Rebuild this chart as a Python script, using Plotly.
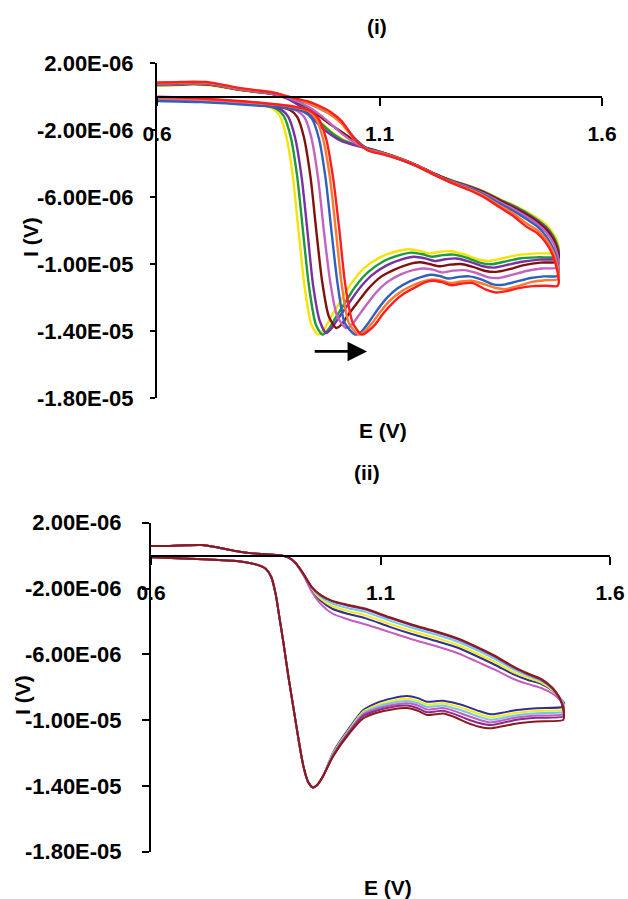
import plotly.graph_objects as go

# ---------------- tick labels ----------------
Y_TICKVALS = [2, -2, -6, -10, -14, -18]          # current in microampere
Y_TICKTEXT = ["2.00E-06", "-2.00E-06", "-6.00E-06", "-1.00E-05", "-1.40E-05", "-1.80E-05"]
X_TICKVALS = [0.6, 1.1, 1.6]
X_TICKTEXT = ["0.6", "1.1", "1.6"]

# ---------------- panel (i) data (E in V, I in uA) ----------------
NAMES_I = ["yellow", "green", "purple", "maroon", "orchid", "blue", "orange", "red"]
COLORS_I = ["#F5E400", "#1B9A3E", "#7A2FA2", "#7F1111", "#C462C4", "#2F5FBF", "#FF7A2A", "#FF1E1E"]

E_LOW_YELLOW = [0.600, 0.700, 0.800, 0.840, 0.860, 0.875, 0.890, 0.905, 0.918, 0.932, 0.947, 0.962, 0.975, 0.990, 1.010, 1.035, 1.065, 1.100, 1.135, 1.165, 1.190, 1.212, 1.235, 1.260, 1.290, 1.320, 1.345, 1.375, 1.410, 1.455, 1.500]
I_LOW_YELLOW = [-0.15, -0.22, -0.38, -0.52, -0.70, -1.10, -2.30, -4.70, -8.00, -11.40, -13.60, -14.20, -13.90, -13.20, -12.30, -11.20, -10.25, -9.60, -9.25, -9.10, -9.20, -9.35, -9.25, -9.22, -9.40, -9.70, -9.80, -9.65, -9.45, -9.35, -9.30]

E_LOW_GREEN = [0.600, 0.700, 0.800, 0.850, 0.870, 0.885, 0.900, 0.915, 0.928, 0.942, 0.957, 0.972, 0.985, 1.000, 1.020, 1.045, 1.075, 1.110, 1.145, 1.172, 1.197, 1.218, 1.242, 1.266, 1.295, 1.325, 1.350, 1.380, 1.415, 1.458, 1.500]
I_LOW_GREEN = [-0.18, -0.25, -0.40, -0.56, -0.75, -1.15, -2.35, -4.75, -8.00, -11.40, -13.60, -14.20, -13.90, -13.25, -12.40, -11.35, -10.45, -9.80, -9.45, -9.30, -9.40, -9.55, -9.45, -9.42, -9.60, -9.90, -10.00, -9.85, -9.65, -9.58, -9.55]

E_LOW_PURPLE = [0.600, 0.700, 0.800, 0.860, 0.880, 0.895, 0.910, 0.925, 0.938, 0.951, 0.966, 0.980, 0.993, 1.008, 1.028, 1.053, 1.083, 1.117, 1.150, 1.178, 1.202, 1.224, 1.248, 1.272, 1.300, 1.330, 1.355, 1.385, 1.420, 1.460, 1.500]
I_LOW_PURPLE = [-0.20, -0.27, -0.42, -0.60, -0.78, -1.20, -2.40, -4.80, -8.00, -11.30, -13.40, -14.10, -13.80, -13.20, -12.45, -11.50, -10.65, -10.05, -9.70, -9.55, -9.65, -9.80, -9.70, -9.65, -9.82, -10.10, -10.20, -10.05, -9.85, -9.72, -9.67]

E_LOW_MAROON = [0.600, 0.700, 0.800, 0.870, 0.900, 0.915, 0.930, 0.945, 0.958, 0.971, 0.986, 1.003, 1.016, 1.030, 1.050, 1.075, 1.103, 1.135, 1.165, 1.190, 1.212, 1.234, 1.258, 1.282, 1.310, 1.338, 1.362, 1.390, 1.425, 1.462, 1.500]
I_LOW_MAROON = [-0.15, -0.22, -0.38, -0.58, -0.80, -1.20, -2.40, -4.80, -8.00, -11.00, -13.10, -13.80, -13.55, -13.00, -12.30, -11.45, -10.75, -10.30, -10.00, -9.88, -9.98, -10.12, -10.02, -9.98, -10.15, -10.40, -10.45, -10.30, -10.05, -9.90, -9.85]

E_LOW_ORCHID = [0.600, 0.700, 0.800, 0.880, 0.915, 0.932, 0.947, 0.962, 0.975, 0.989, 1.005, 1.025, 1.038, 1.052, 1.070, 1.092, 1.118, 1.148, 1.175, 1.198, 1.220, 1.242, 1.265, 1.290, 1.318, 1.345, 1.368, 1.395, 1.430, 1.465, 1.500]
I_LOW_ORCHID = [-0.18, -0.25, -0.42, -0.62, -0.85, -1.25, -2.45, -4.85, -8.00, -11.00, -13.10, -13.80, -13.60, -13.10, -12.45, -11.70, -11.05, -10.60, -10.35, -10.25, -10.32, -10.48, -10.38, -10.35, -10.52, -10.78, -10.82, -10.65, -10.40, -10.25, -10.20]

E_LOW_BLUE = [0.600, 0.700, 0.800, 0.890, 0.930, 0.948, 0.964, 0.979, 0.992, 1.006, 1.022, 1.046, 1.060, 1.075, 1.093, 1.115, 1.140, 1.168, 1.195, 1.215, 1.235, 1.255, 1.278, 1.302, 1.330, 1.355, 1.378, 1.405, 1.440, 1.470, 1.500]
I_LOW_BLUE = [-0.25, -0.32, -0.48, -0.66, -0.90, -1.30, -2.50, -4.90, -8.00, -11.20, -13.50, -14.20, -14.00, -13.50, -12.80, -12.05, -11.45, -11.02, -10.75, -10.62, -10.70, -10.85, -10.75, -10.72, -10.92, -11.20, -11.22, -11.05, -10.82, -10.72, -10.70]

E_LOW_ORANGE = [0.600, 0.700, 0.800, 0.895, 0.940, 0.957, 0.973, 0.989, 1.002, 1.015, 1.031, 1.053, 1.067, 1.082, 1.100, 1.122, 1.147, 1.175, 1.200, 1.220, 1.240, 1.260, 1.283, 1.307, 1.335, 1.360, 1.383, 1.410, 1.443, 1.472, 1.500]
I_LOW_ORANGE = [-0.05, -0.15, -0.32, -0.55, -0.85, -1.30, -2.50, -4.90, -8.00, -11.20, -13.50, -14.20, -14.00, -13.55, -12.90, -12.20, -11.65, -11.25, -11.00, -10.90, -10.98, -11.12, -11.02, -10.98, -11.18, -11.40, -11.48, -11.30, -11.05, -10.95, -10.90]

E_LOW_RED = [0.600, 0.700, 0.800, 0.900, 0.945, 0.963, 0.980, 0.996, 1.010, 1.023, 1.040, 1.060, 1.074, 1.090, 1.108, 1.130, 1.155, 1.182, 1.205, 1.222, 1.242, 1.262, 1.285, 1.310, 1.338, 1.362, 1.386, 1.413, 1.445, 1.473, 1.500]
I_LOW_RED = [0.00, -0.10, -0.28, -0.55, -0.85, -1.30, -2.50, -4.90, -8.00, -11.20, -13.50, -14.20, -14.00, -13.60, -12.95, -12.30, -11.75, -11.35, -11.05, -10.98, -11.08, -11.25, -11.15, -11.12, -11.50, -11.68, -11.60, -11.42, -11.30, -11.28, -11.30]

E_UP_I = [1.503, 1.498, 1.490, 1.475, 1.455, 1.430, 1.400, 1.370, 1.335, 1.300, 1.260, 1.220, 1.185, 1.150, 1.110, 1.075, 1.045, 1.015, 0.990, 0.965, 0.940, 0.915, 0.890, 0.860, 0.820, 0.780, 0.740, 0.710, 0.680, 0.640, 0.600]
I_UP_YELLOW = [-9.05, -8.55, -8.15, -7.65, -7.25, -6.85, -6.45, -6.10, -5.65, -5.30, -4.98, -4.55, -4.10, -3.72, -3.35, -3.08, -2.85, -2.50, -2.05, -1.45, -0.80, -0.30, 0.00, 0.18, 0.30, 0.42, 0.60, 0.70, 0.72, 0.68, 0.65]
I_UP_GREEN = [-9.30, -8.75, -8.30, -7.78, -7.35, -6.92, -6.50, -6.13, -5.68, -5.32, -4.98, -4.55, -4.10, -3.72, -3.35, -3.08, -2.85, -2.55, -2.10, -1.50, -0.85, -0.35, -0.02, 0.18, 0.32, 0.45, 0.64, 0.74, 0.76, 0.72, 0.70]
I_UP_PURPLE = [-9.42, -8.88, -8.40, -7.85, -7.42, -6.98, -6.55, -6.17, -5.70, -5.34, -5.00, -4.56, -4.11, -3.73, -3.36, -3.10, -2.90, -2.65, -2.25, -1.70, -1.00, -0.45, -0.08, 0.16, 0.32, 0.46, 0.66, 0.76, 0.78, 0.74, 0.72]
I_UP_MAROON = [-9.60, -9.00, -8.50, -7.95, -7.48, -7.04, -6.60, -6.20, -5.72, -5.36, -5.00, -4.56, -4.10, -3.72, -3.36, -3.10, -2.65, -2.10, -1.65, -1.15, -0.65, -0.30, -0.05, 0.16, 0.30, 0.44, 0.64, 0.75, 0.77, 0.73, 0.71]
I_UP_ORCHID = [-9.95, -9.25, -8.70, -8.10, -7.60, -7.15, -6.68, -6.28, -5.78, -5.40, -5.04, -4.58, -4.12, -3.74, -3.38, -3.12, -2.75, -2.20, -1.60, -1.05, -0.60, -0.27, -0.03, 0.18, 0.32, 0.46, 0.66, 0.77, 0.79, 0.75, 0.73]
I_UP_BLUE = [-10.45, -9.70, -9.05, -8.35, -7.75, -7.30, -6.80, -6.38, -5.85, -5.45, -5.08, -4.62, -4.16, -3.78, -3.42, -3.15, -2.50, -1.55, -1.05, -0.70, -0.40, -0.15, 0.03, 0.22, 0.36, 0.50, 0.70, 0.81, 0.83, 0.78, 0.74]
I_UP_ORANGE = [-10.65, -9.90, -9.25, -8.55, -7.98, -7.55, -6.95, -6.50, -5.92, -5.50, -5.10, -4.60, -4.13, -3.76, -3.42, -3.18, -2.60, -1.60, -1.05, -0.68, -0.38, -0.14, 0.04, 0.24, 0.38, 0.52, 0.73, 0.84, 0.86, 0.82, 0.80]
I_UP_RED = [-11.05, -10.20, -9.50, -8.75, -8.15, -7.75, -7.10, -6.60, -6.00, -5.55, -5.12, -4.62, -4.15, -3.78, -3.45, -3.22, -2.55, -1.45, -0.90, -0.55, -0.28, -0.12, 0.05, 0.26, 0.40, 0.55, 0.76, 0.88, 0.90, 0.87, 0.85]

# arrow in panel (i): tail and tip (E, I)
ARROW_TAIL = (0.951, -15.2)
ARROW_TIP = (1.072, -15.2)

# ---------------- panel (ii) data ----------------
NAMES_II = ["navy", "yellow", "cyan", "orchid", "purple", "maroon"]
COLORS_II = ["#2E3192", "#F8E81C", "#6CCBEA", "#C55BBE", "#8A2B8E", "#8B1A1A"]

E_LOW_II = [0.600, 0.700, 0.780, 0.830, 0.850, 0.862, 0.872, 0.880, 0.888, 0.899, 0.910, 0.921, 0.932, 0.943, 0.953, 0.962, 0.975, 0.997, 1.034, 1.062, 1.092, 1.125, 1.158, 1.180, 1.201, 1.220, 1.236, 1.260, 1.288, 1.315, 1.339, 1.365, 1.397, 1.440, 1.498]
I_LOW_NAVY = [-0.10, -0.20, -0.32, -0.55, -0.80, -1.30, -2.40, -3.80, -5.20, -7.30, -9.20, -11.10, -12.80, -13.80, -14.10, -13.95, -13.40, -11.95, -10.40, -9.40, -8.95, -8.68, -8.54, -8.65, -8.88, -8.85, -8.82, -8.95, -9.18, -9.45, -9.65, -9.55, -9.39, -9.28, -9.18]
I_LOW_YELLOW2 = [-0.10, -0.20, -0.32, -0.55, -0.80, -1.30, -2.40, -3.80, -5.20, -7.30, -9.20, -11.10, -12.80, -13.80, -14.10, -13.95, -13.40, -12.00, -10.48, -9.50, -9.10, -8.84, -8.70, -8.82, -9.05, -9.02, -8.98, -9.12, -9.36, -9.63, -9.83, -9.73, -9.56, -9.45, -9.35]
I_LOW_CYAN = [-0.10, -0.20, -0.32, -0.55, -0.80, -1.30, -2.40, -3.80, -5.20, -7.30, -9.20, -11.10, -12.80, -13.80, -14.10, -13.95, -13.40, -12.05, -10.55, -9.58, -9.20, -8.96, -8.84, -8.96, -9.20, -9.16, -9.12, -9.28, -9.52, -9.80, -9.98, -9.88, -9.70, -9.58, -9.50]
I_LOW_ORCHID2 = [-0.10, -0.20, -0.32, -0.55, -0.80, -1.30, -2.40, -3.80, -5.20, -7.30, -9.20, -11.10, -12.80, -13.80, -14.10, -13.95, -13.40, -12.10, -10.60, -9.66, -9.30, -9.08, -8.98, -9.10, -9.36, -9.31, -9.27, -9.44, -9.72, -9.98, -10.14, -10.02, -9.84, -9.72, -9.65]
I_LOW_PURPLE2 = [-0.10, -0.20, -0.32, -0.55, -0.80, -1.30, -2.40, -3.80, -5.20, -7.30, -9.20, -11.10, -12.80, -13.80, -14.10, -13.95, -13.40, -12.15, -10.65, -9.75, -9.42, -9.20, -9.12, -9.26, -9.52, -9.47, -9.43, -9.62, -9.93, -10.18, -10.30, -10.17, -9.98, -9.86, -9.78]
I_LOW_MAROON2 = [-0.10, -0.20, -0.32, -0.55, -0.80, -1.30, -2.40, -3.80, -5.20, -7.30, -9.20, -11.10, -12.80, -13.80, -14.10, -13.95, -13.40, -12.20, -10.75, -9.90, -9.55, -9.35, -9.27, -9.42, -9.69, -9.65, -9.60, -9.80, -10.15, -10.40, -10.50, -10.38, -10.20, -10.08, -10.00]

E_UP_II = [1.500, 1.497, 1.490, 1.475, 1.450, 1.420, 1.390, 1.350, 1.310, 1.270, 1.220, 1.170, 1.120, 1.070, 1.030, 0.995, 0.970, 0.950, 0.932, 0.915, 0.900, 0.880, 0.850, 0.816, 0.780, 0.740, 0.710, 0.680, 0.640, 0.600]
I_UP_NAVY = [-8.95, -8.85, -8.60, -8.22, -7.80, -7.55, -7.22, -6.65, -6.12, -5.62, -5.18, -4.78, -4.33, -3.83, -3.55, -3.23, -2.75, -2.08, -1.16, -0.46, -0.12, 0.02, 0.08, 0.15, 0.30, 0.52, 0.64, 0.63, 0.59, 0.58]
I_UP_YELLOW2 = [-9.10, -8.90, -8.62, -8.18, -7.72, -7.42, -7.08, -6.48, -5.95, -5.45, -5.00, -4.60, -4.15, -3.65, -3.38, -3.08, -2.64, -2.02, -1.14, -0.46, -0.12, 0.02, 0.08, 0.15, 0.30, 0.52, 0.64, 0.63, 0.59, 0.58]
I_UP_CYAN = [-9.25, -8.95, -8.62, -8.12, -7.62, -7.30, -6.92, -6.30, -5.75, -5.25, -4.80, -4.40, -3.95, -3.45, -3.20, -2.92, -2.52, -1.96, -1.12, -0.45, -0.12, 0.02, 0.08, 0.15, 0.30, 0.52, 0.64, 0.63, 0.59, 0.58]
I_UP_ORCHID2 = [-9.40, -9.00, -8.75, -8.40, -8.05, -7.80, -7.50, -6.95, -6.45, -5.95, -5.50, -5.10, -4.65, -4.20, -3.88, -3.52, -2.95, -2.18, -1.20, -0.47, -0.12, 0.02, 0.08, 0.15, 0.30, 0.52, 0.64, 0.63, 0.59, 0.58]
I_UP_PURPLE2 = [-9.55, -9.10, -8.65, -8.08, -7.55, -7.20, -6.80, -6.15, -5.60, -5.10, -4.65, -4.25, -3.80, -3.30, -3.05, -2.78, -2.42, -1.91, -1.10, -0.45, -0.12, 0.02, 0.08, 0.15, 0.30, 0.52, 0.64, 0.63, 0.59, 0.58]
I_UP_MAROON2 = [-9.75, -9.20, -8.65, -8.05, -7.50, -7.15, -6.75, -6.10, -5.55, -5.05, -4.60, -4.20, -3.75, -3.25, -3.00, -2.75, -2.40, -1.90, -1.10, -0.45, -0.12, 0.02, 0.08, 0.15, 0.30, 0.52, 0.64, 0.63, 0.59, 0.58]

# ---------------- figure ----------------
W, H = 628, 899
FONT = "Liberation Sans, Arial, Helvetica, sans-serif"


def fx(p):
    return p / W


def fy(p):
    return 1 - p / H


DOM_X1 = [fx(157), fx(602)]
DOM_Y1 = [fy(398.3), fy(63.3)]
DOM_X2 = [fx(151), fx(610)]
DOM_Y2 = [fy(851.7), fy(522.7)]
Y_RANGE = [-18, 2]
X_RANGE = [0.6, 1.6]


def zero_pos(dom):
    return dom[0] + (0 - Y_RANGE[0]) / (Y_RANGE[1] - Y_RANGE[0]) * (dom[1] - dom[0])


fig = go.Figure()

low_i = [(E_LOW_YELLOW, I_LOW_YELLOW), (E_LOW_GREEN, I_LOW_GREEN), (E_LOW_PURPLE, I_LOW_PURPLE),
         (E_LOW_MAROON, I_LOW_MAROON), (E_LOW_ORCHID, I_LOW_ORCHID), (E_LOW_BLUE, I_LOW_BLUE),
         (E_LOW_ORANGE, I_LOW_ORANGE), (E_LOW_RED, I_LOW_RED)]
up_i = [I_UP_YELLOW, I_UP_GREEN, I_UP_PURPLE, I_UP_MAROON, I_UP_ORCHID, I_UP_BLUE, I_UP_ORANGE, I_UP_RED]

for (el, il), iu, col, nm in zip(low_i, up_i, COLORS_I, NAMES_I):
    fig.add_trace(go.Scatter(x=el + E_UP_I, y=il + iu, mode="lines", name=nm,
                             line=dict(color=col, width=2.4, shape="spline", smoothing=0.7),
                             xaxis="x", yaxis="y", showlegend=False, hoverinfo="skip"))

low_ii = [I_LOW_NAVY, I_LOW_YELLOW2, I_LOW_CYAN, I_LOW_ORCHID2, I_LOW_PURPLE2, I_LOW_MAROON2]
up_ii = [I_UP_NAVY, I_UP_YELLOW2, I_UP_CYAN, I_UP_ORCHID2, I_UP_PURPLE2, I_UP_MAROON2]
for il, iu, col, nm in zip(low_ii, up_ii, COLORS_II, NAMES_II):
    fig.add_trace(go.Scatter(x=E_LOW_II + E_UP_II, y=il + iu, mode="lines", name=nm,
                             line=dict(color=col, width=2.0, shape="spline", smoothing=0.7),
                             xaxis="x2", yaxis="y2", showlegend=False, hoverinfo="skip"))

ytickfont = dict(family=FONT, size=22, color="black", weight="bold")
xtickfont = dict(family=FONT, size=21, color="black", weight="bold")


def xaxis(dom, ydom):
    return dict(domain=dom, range=X_RANGE, anchor="free", position=zero_pos(ydom), automargin=False,
                showline=True, linecolor="black", linewidth=2, ticks="outside", ticklen=8,
                tickwidth=2, tickcolor="black", tickvals=X_TICKVALS, ticktext=X_TICKTEXT,
                tickfont=xtickfont, ticklabelstandoff=10, showgrid=False, zeroline=False)


def yaxis(dom, xname, ticklen, standoff):
    return dict(domain=dom, range=Y_RANGE, anchor=xname, automargin=False, showline=True,
                linecolor="black", linewidth=2, ticks="outside", ticklen=ticklen, tickwidth=2,
                tickcolor="black", tickvals=Y_TICKVALS, ticktext=Y_TICKTEXT, tickfont=ytickfont,
                ticklabelstandoff=standoff, showgrid=False, zeroline=False)


title_font = dict(family=FONT, size=21, color="black", weight="bold")


def label(text, px, py, angle=0):
    return dict(text=text, x=fx(px), y=fy(py), xref="paper", yref="paper", showarrow=False,
                xanchor="center", yanchor="middle", font=title_font, textangle=angle)


annotations = [
    label("(i)", 377, 26),
    label("E (V)", 383, 430),
    label("I (V)", 30, 237, -90),
    label("(ii)", 367, 472),
    label("E (V)", 388, 887),
    label("I (V)", 22, 695, -90),
    dict(text="", x=ARROW_TIP[0], y=ARROW_TIP[1], ax=ARROW_TAIL[0], ay=ARROW_TAIL[1],
         xref="x", yref="y", axref="x", ayref="y", showarrow=True, arrowhead=2, arrowsize=1.5,
         arrowwidth=2.6, arrowcolor="black"),
]

fig.update_layout(
    width=W, height=H, margin=dict(l=0, r=0, t=0, b=0, autoexpand=False),
    paper_bgcolor="white", plot_bgcolor="white",
    xaxis=xaxis(DOM_X1, DOM_Y1),
    yaxis=yaxis(DOM_Y1, "x", 5, 12),
    xaxis2=xaxis(DOM_X2, DOM_Y2),
    yaxis2=yaxis(DOM_Y2, "x2", 7, 16),
    annotations=annotations,
    showlegend=False,
)

fig.write_html("out.html")
